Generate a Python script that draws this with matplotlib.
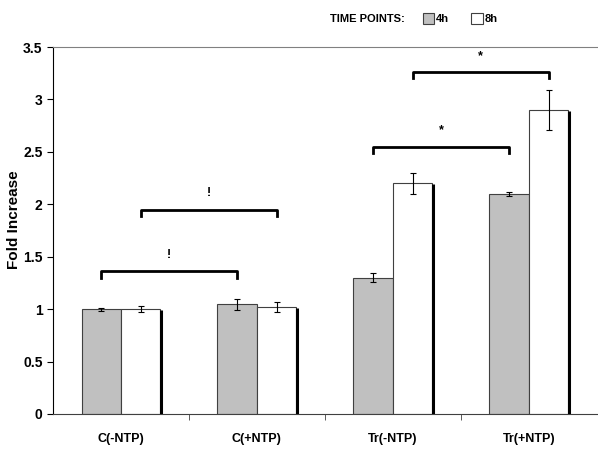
import numpy as np
import matplotlib.pyplot as plt
from matplotlib.patches import Rectangle

# data
categories = ['C(-NTP)', 'C(+NTP)', 'Tr(-NTP)', 'Tr(+NTP)']
vals_4h = [1.00, 1.045, 1.30, 2.10]
err_4h = [0.015, 0.05, 0.04, 0.02]
vals_8h = [1.00, 1.02, 2.20, 2.90]
err_8h = [0.03, 0.05, 0.10, 0.19]
# significance brackets: (cat_a, series_a, cat_b, series_b, height, mark)
brackets = [(0, 0, 1, 0, 1.36, '!'), (0, 1, 1, 1, 1.95, '!'),
            (2, 0, 3, 0, 2.55, '*'), (2, 1, 3, 1, 3.26, '*')]

plt.rcParams['font.family'] = ['Liberation Sans Narrow', 'Liberation Sans', 'DejaVu Sans']
plt.rcParams['font.weight'] = 'bold'

fig = plt.figure(figsize=(5.98, 4.53), dpi=100)
ax = fig.add_axes([0.0886, 0.0861, 0.9094, 0.8101])

x = np.arange(len(categories))
w = 0.29
offs = [-w / 2, w / 2]

ax.bar(x + offs[0], vals_4h, w, color='#c0c0c0', edgecolor='#404040', linewidth=0.8, zorder=2)
ax.bar(x + offs[1], vals_8h, w, color='white', edgecolor='#404040', linewidth=0.8, zorder=2)
# thick shadow on the right side of white bars
for xi, v in zip(x + offs[1], vals_8h):
    ax.plot([xi + w / 2 + 0.008, xi + w / 2 + 0.008], [0, v - 0.01], color='black', lw=2.2, zorder=3,
            solid_capstyle='butt')

ax.errorbar(x + offs[0], vals_4h, yerr=err_4h, fmt='none', ecolor='black', elinewidth=0.8, capsize=2.5,
            capthick=0.8, zorder=4)
ax.errorbar(x + offs[1], vals_8h, yerr=err_8h, fmt='none', ecolor='black', elinewidth=0.8, capsize=2.5,
            capthick=0.8, zorder=4)

# brackets
for ca, sa, cb, sb, h, mark in brackets:
    xa = x[ca] + offs[sa]
    xb = x[cb] + offs[sb]
    ax.plot([xa, xa, xb, xb], [h - 0.06, h, h, h - 0.06], color='black', lw=2, zorder=5)
    ax.text((xa + xb) / 2, h + 0.1, mark, ha='center', va='bottom', fontsize=9, fontweight='bold')

ax.set_xlim(-0.5, 3.5)
ax.set_ylim(0, 3.5)
ax.set_yticks(np.arange(0, 3.51, 0.5))
ax.set_yticklabels(['0', '0.5', '1', '1.5', '2', '2.5', '3', '3.5'])
ax.set_xticks(x)
ax.set_xticklabels(categories)
ax.set_xticks([0.5, 1.5, 2.5], minor=True)
ax.tick_params(axis='x', which='major', length=0, pad=14, labelsize=9)
ax.tick_params(axis='x', which='minor', length=4, direction='out', color='#404040')
ax.tick_params(axis='y', length=4, direction='out', labelsize=10)

ax.spines['right'].set_visible(False)
ax.spines['top'].set_color('#808080')
ax.spines['bottom'].set_color('#404040')
ax.spines['left'].set_color('black')
ax.set_ylabel('Fold Increase', fontsize=11, fontweight='bold')
ax.yaxis.set_label_coords(-0.058, 0.53)

# legend
lg_font = ['Liberation Sans', 'DejaVu Sans']
fig.text(0.552, 0.958, 'TIME POINTS:', fontsize=8, fontweight='bold', va='center', family=lg_font)
fig.patches.append(Rectangle((0.707, 0.946), 0.019, 0.026, transform=fig.transFigure,
                             facecolor='#c0c0c0', edgecolor='#404040', lw=0.8))
fig.text(0.729, 0.958, '4h', fontsize=8, fontweight='bold', va='center', family=lg_font)
fig.patches.append(Rectangle((0.788, 0.946), 0.019, 0.026, transform=fig.transFigure,
                             facecolor='white', edgecolor='#404040', lw=0.8))
fig.text(0.810, 0.958, '8h', fontsize=8, fontweight='bold', va='center', family=lg_font)

fig.savefig('out.png', dpi=100)
